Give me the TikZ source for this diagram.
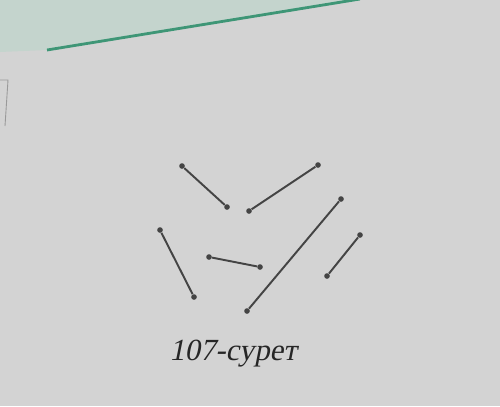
\documentclass[tikz,border=0pt]{standalone}
\usepackage{fontspec}
\setmainfont{Liberation Serif}
\newfontfamily\slantserif[FakeSlant=0.2]{Liberation Serif}
\definecolor{paper}{RGB}{211,211,211}
\definecolor{papertint}{RGB}{196,212,205}
\definecolor{bandgreen}{RGB}{62,150,118}
\definecolor{segink}{RGB}{68,68,68}
\tikzset{
  seg/.style={segink, line width=1.1pt},
  tip/.style={circle, fill=segink, inner sep=0pt, minimum size=3.2pt}
}
\begin{document}
\begin{tikzpicture}[x=0.02cm, y=-0.02cm]

% Background
\fill[paper] (0, 0) rectangle (500, 406);
\useasboundingbox (0, 0) rectangle (500, 406);
\fill[papertint] (0, 0) -- (360, 0) -- (47, 50) -- (0, 52) -- cycle;

% Green rule and box edge
\draw[bandgreen, line width=1.6pt] (47, 50) -- (360, -1);
\draw[gray!80, line width=0.5pt] (0, 80) -- (8, 80) -- (5, 126);

% Segment end points
\node[tip] (a1) at (182, 166) {};
\node[tip] (a2) at (227, 207) {};
\node[tip] (b1) at (318, 165) {};
\node[tip] (b2) at (249, 211) {};
\node[tip] (c1) at (341, 199) {};
\node[tip] (c2) at (247, 311) {};
\node[tip] (d1) at (360, 235) {};
\node[tip] (d2) at (327, 276) {};
\node[tip] (e1) at (160, 230) {};
\node[tip] (e2) at (194, 297) {};
\node[tip] (f1) at (209, 257) {};
\node[tip] (f2) at (260, 267) {};

% Segments
\draw[seg] (a1) -- (a2);
\draw[seg] (b1) -- (b2);
\draw[seg] (c1) -- (c2);
\draw[seg] (d1) -- (d2);
\draw[seg] (e1) -- (e2);
\draw[seg] (f1) -- (f2);

% Caption
\node (cap) at (233, 354) [text=black!85, font=\fontsize{17.5}{19}\slantserif] {107-сурет};

\end{tikzpicture}
\end{document}
